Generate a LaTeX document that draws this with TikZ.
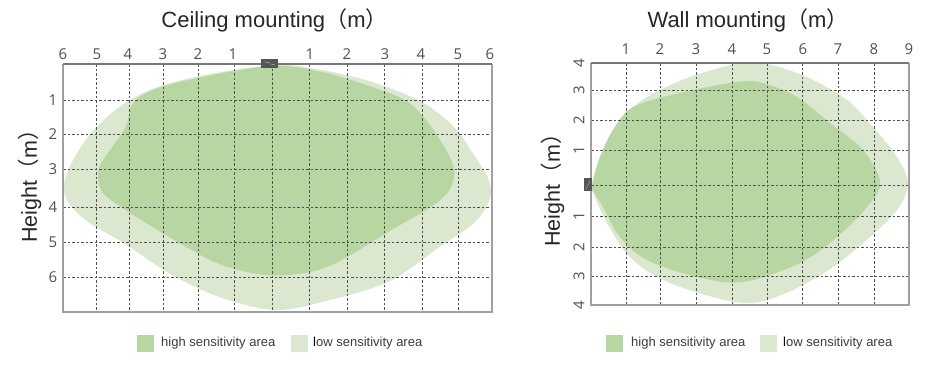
\documentclass[tikz,border=0pt]{standalone}
\usepackage{fontspec}
\setmainfont{Liberation Sans}
\newfontfamily\cjkfont{Noto Sans CJK SC}
\newfontfamily\numfont{Open Sans}
\definecolor{hiGreen}{RGB}{183,214,162}
\definecolor{loGreen}{RGB}{219,232,207}
\definecolor{gridGray}{RGB}{80,80,80}
\definecolor{boxGray}{RGB}{160,160,160}
\definecolor{topGray}{RGB}{120,120,120}
\definecolor{numGray}{RGB}{80,80,80}
\definecolor{txtGray}{RGB}{60,60,60}
\definecolor{sensorGray}{RGB}{85,85,85}
\tikzset{
  gridline/.style={draw=gridGray, line width=0.75pt, dash pattern=on 2.5pt off 2pt},
  frameline/.style={draw=boxGray, line width=1.3pt},
  topline/.style={draw=topGray, line width=1.1pt},
  titletext/.style={inner sep=0pt, font=\fontsize{22}{25}\selectfont, text=black!85},
  sidetitle/.style={inner sep=0pt, font=\fontsize{21.5}{24}\selectfont, text=black!85},
  ticknum/.style={inner sep=0pt, font=\numfont\fontsize{15}{17}\selectfont, text=numGray},
  legtext/.style={inner sep=0pt, anchor=west, font=\fontsize{13}{15}\selectfont, text=txtGray},
  hiarea/.style={fill=hiGreen, draw=none},
  loarea/.style={fill=loGreen, draw=none},
  legbox/.style={draw=none, minimum width=17pt, minimum height=17pt, inner sep=0pt},
  sensorbox/.style={fill=sensorGray, draw=none}
}
\newcommand{\paren}[1]{{\cjkfont #1}}
\begin{document}
\begin{tikzpicture}[x=1pt, y=-1pt]
\useasboundingbox (0,0) rectangle (926,378);

% ================= LEFT: Ceiling mounting =================
\node[titletext] (titleL) at (274.5,20) {Ceiling mounting\paren{（}m\paren{）}};

% areas
\fill[loarea] plot[smooth cycle, tension=0.55] coordinates {
 (275,65) (205,75) (155,88) (122,105) (92,132) (72,162) (64,185) (68,202)
 (88,222) (122,242) (172,275) (222,298) (275,310) (322,302) (388,282)
 (438,248) (475,222) (490,198) (488,178) (472,152) (455,128) (422,102)
 (372,82) (322,70)};
\fill[hiarea] plot[smooth cycle, tension=0.55] coordinates {
 (270,66) (188,80) (148,92) (132,105) (125,128) (102,162) (98,178) (105,195)
 (138,218) (188,248) (222,265) (265,275) (305,273) (338,262) (388,232)
 (438,202) (453,182) (452,162) (432,128) (408,102) (372,87) (322,72)};

% grid
\foreach \x in {96,129,163,198,234,272,309,347,384,422,458}
  \draw[gridline] (\x,64) -- (\x,312);
\foreach \y in {100,134,169,207,242,277}
  \draw[gridline] (63,\y) -- (492,\y);

% frame
\coordinate (L-tl) at (63,64);
\coordinate (L-tr) at (492,64);
\coordinate (L-bl) at (63,312);
\coordinate (L-br) at (492,312);
\draw[frameline] (L-tl) -- (L-bl) -- (L-br) -- (L-tr);
\draw[topline] (L-tl) -- (L-tr);

% sensor
\fill[sensorbox] (261,59) rectangle (278,68);
\draw[white!60!sensorGray, line width=0.4pt] (265,62) -- (270,63) (271,64) -- (275,65);

% top numbers
\foreach \x/\t [count=\i] in {63/6,97/5,128/4,163/3,198/2,233/1,310/1,347/2,385/3,421/4,458/5,490/6}
  \node[ticknum] (Ltop\i) at (\x,54) {\t};
% left numbers
\foreach \y/\t [count=\i] in {100/1,134/2,169/3,207/4,242/5,277/6}
  \node[ticknum] (Lside\i) at (53,\y) {\t};

\node[sidetitle, rotate=90] (heightL) at (30,181) {Height\paren{（}m\paren{）}};

% legend
\node[legbox, fill=hiGreen] (LlegHi) at (145.5,343.5) {};
\node[legtext] (LlegHiT) at (161,343.5) {high sensitivity area};
\node[legbox, fill=loGreen] (LlegLo) at (299.5,343.5) {};
\node[legtext] (LlegLoT) at (313,343.5) {\textcolor{black}{l}ow sensitivity area};

% ================= RIGHT: Wall mounting =================
\node[titletext] (titleR) at (748,20) {Wall mounting\paren{（}m\paren{）}};

\fill[loarea] plot[smooth cycle, tension=0.55] coordinates {
 (592,185) (603,150) (620,120) (647,97) (690,77) (740,63) (767,64) (807,77)
 (847,100) (873,127) (897,157) (908,184) (897,210) (870,237) (833,267)
 (793,290) (753,303) (713,297) (663,280) (630,257) (607,223) (594,195)};
\fill[hiarea] plot[smooth cycle, tension=0.55] coordinates {
 (592,185) (600,157) (613,130) (633,107) (680,93) (737,82) (763,83) (797,97)
 (830,123) (863,150) (880,182) (867,207) (837,237) (800,263) (743,282)
 (697,277) (647,260) (620,237) (603,207) (594,192)};

\foreach \x in {626,660,696,732,767,802,838,874}
  \draw[gridline] (\x,63) -- (\x,305);
\foreach \y in {90,120,150,185,216,247,276}
  \draw[gridline] (591,\y) -- (909,\y);

\coordinate (R-tl) at (591,63);
\coordinate (R-tr) at (909,63);
\coordinate (R-bl) at (591,305);
\coordinate (R-br) at (909,305);
\draw[frameline] (R-tl) -- (R-bl) -- (R-br) -- (R-tr);
\draw[topline] (R-tl) -- (R-tr);

\fill[sensorbox] (584,178) rectangle (592,191);
\draw[white!60!sensorGray, line width=0.4pt] (586,189) -- (590,181);

\foreach \x/\t [count=\i] in {626/1,660/2,696/3,732/4,767/5,803/6,838/7,874/8,909/9}
  \node[ticknum] (Rtop\i) at (\x,49) {\t};
\foreach \y/\t [count=\i] in {63/4,90/3,120/2,150/1,216/1,247/2,276/3,305/4}
  \node[ticknum, rotate=90] (Rside\i) at (579,\y) {\t};

\node[sidetitle, rotate=90] (heightR) at (553,185) {Height\paren{（}m\paren{）}};

\node[legbox, fill=hiGreen] (RlegHi) at (614.5,343.5) {};
\node[legtext] (RlegHiT) at (631,343.5) {high sensitivity area};
\node[legbox, fill=loGreen] (RlegLo) at (768.5,343.5) {};
\node[legtext] (RlegLoT) at (783,343.5) {\textcolor{black}{l}ow sensitivity area};
\end{tikzpicture}
\end{document}
